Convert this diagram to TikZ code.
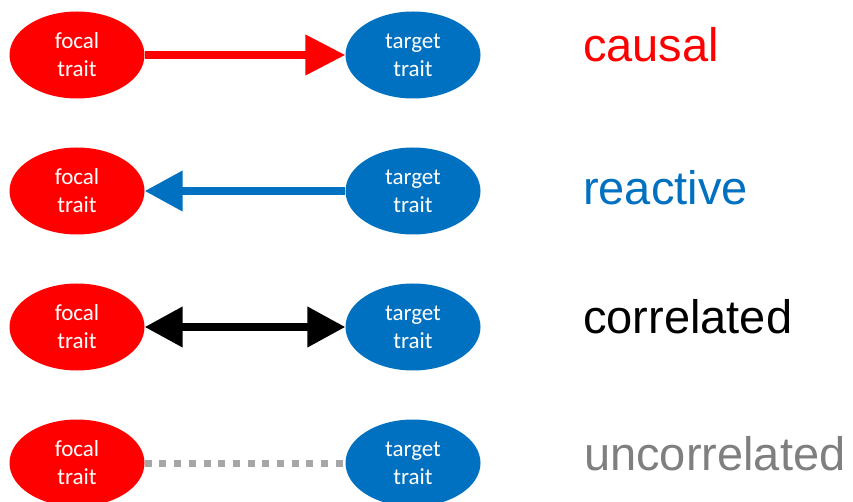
\documentclass[tikz,border=0pt]{standalone}
\usepackage{fontspec}
\setmainfont{Liberation Sans}
\newfontfamily\traitfont{Carlito}
\usetikzlibrary{arrows.meta,shapes.geometric}
\definecolor{focalred}{HTML}{FF0000}
\definecolor{targetblue}{HTML}{0070C0}
\definecolor{dotgray}{HTML}{A6A6A6}
\definecolor{labelgray}{HTML}{7F7F7F}
\begin{document}
\begin{tikzpicture}[x=1pt,y=-1pt,
  trait/.style={ellipse, minimum width=135pt, minimum height=87pt, inner sep=0pt,
    text=white, align=center, font=\traitfont\fontsize{23}{28}\selectfont},
  focal/.style={trait, fill=focalred},
  target/.style={trait, fill=targetblue},
  link/.style={line width=7.5pt},
  kind/.style={anchor=base west, inner sep=0pt, font=\fontsize{47}{56}\selectfont}]
\useasboundingbox (0,0) rectangle (853,502);

% four rows of trait pairs
\foreach \r/\y in {1/55, 2/191, 3/327, 4/463} {
  \node[focal]  (f\r) at (77,\y)  {focal\\trait};
  \node[target] (t\r) at (413,\y) {target\\trait};
}

% connectors
\draw[link, focalred, -{Triangle[length=40pt,width=39pt]}] (f1.east) -- (t1.west);
\draw[link, targetblue, -{Triangle[length=38pt,width=39pt]}] (t2.west) -- (f2.east);
\draw[link, black, {Triangle[length=38pt,width=39pt]}-{Triangle[length=38pt,width=39pt]}] (f3.east) -- (t3.west);
\draw[line width=7pt, dotgray, dash pattern=on 7pt off 7.7pt] (f4.east) -- (t4.west);

% relation names
\node[kind, text=focalred]   (l1) at (583,62)  {causal};
\node[kind, text=targetblue] (l2) at (583,205) {reactive};
\node[kind, text=black]      (l3) at (583,333) {correlated};
\node[kind, text=labelgray]  (l4) at (584,470) {uncorrelated};
\end{tikzpicture}
\end{document}
